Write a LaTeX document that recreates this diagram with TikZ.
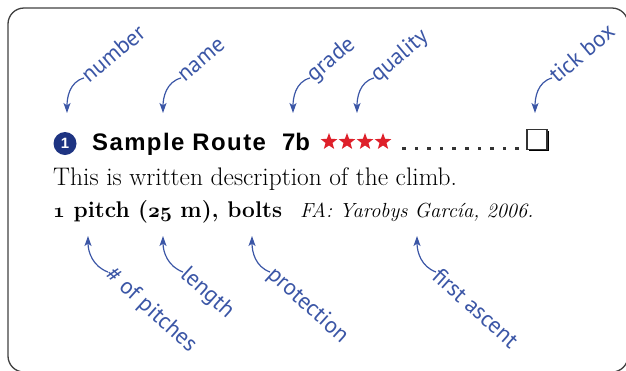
\documentclass[tikz,border=0pt]{standalone}
\usepackage{fontspec}
\newfontfamily\routefont{Liberation Sans}
\newfontfamily\notefont{PT Sans}
\usetikzlibrary{arrows.meta,shapes.geometric,shadows}

\definecolor{noteblue}{RGB}{59,86,166}
\definecolor{routenavy}{RGB}{30,52,130}
\definecolor{starred}{RGB}{222,32,42}

% old style figures taken from the math italic font
\newcommand\osfig[1]{{\fontencoding{OML}\fontfamily{cmm}\fontseries{b}\fontshape{it}\selectfont #1}}

\tikzset{
  note/.style={text=noteblue, inner sep=0pt,
    font=\notefont\fontsize{23}{23}\selectfont},
  notearrow/.style={draw=noteblue, line width=1.2bp,
    -{Stealth[length=10bp,width=7bp,inset=2.5bp]}},
  routetext/.style={inner sep=0pt, anchor=base west,
    font=\routefont\bfseries\fontsize{24}{24}\selectfont},
  desctext/.style={inner sep=0pt, anchor=base west,
    font=\fontsize{25.5}{25.5}\selectfont},
}

\begin{document}
\begin{tikzpicture}[x=1bp,y=-1bp]
  \useasboundingbox (0,0) rectangle (626,370);
  \draw[black!75, line width=1.3bp, rounded corners=16bp]
    (8,8) rectangle (628,372); % cadre

  % ligne du titre
  \node[circle, fill=routenavy, text=white, minimum size=23bp, inner sep=0pt,
    font=\routefont\bfseries\fontsize{15}{15}\selectfont] (num) at (65,143.5) {1};
  \node[routetext] (route) at (92,150)
    {\addfontfeature{LetterSpace=6}Sample Route};
  \node[routetext] (grade) at (282,150) {7b};
  \foreach \i in {1,...,4}
    \node[star, star points=5, star point ratio=2.4, fill=starred,
      minimum size=17.5bp, inner sep=0pt] (star\i) at (311+\i*18,141.8) {};
  \foreach \i in {0,...,9}
    \fill[black!80] (402+\i*12.6,146.6) rectangle +(3.6,3.6); % points
  \node[draw=black!80, fill=white, line width=1.3bp, minimum size=20bp,
    inner sep=0pt, drop shadow={shadow xshift=1.5bp, shadow yshift=-1.5bp,
    fill=black, opacity=1}] (tick) at (537,139.5) {};

  % description
  \node[desctext] (descr) at (53,185) {This is written description of the climb.};
  \node[desctext, font=\fontsize{22.8}{22.8}\selectfont\bfseries] (facts) at (53,217)
    {\osfig{1} pitch (\osfig{25} m), bolts};
  \node[desctext, font=\fontsize{20.5}{20.5}\selectfont\itshape] (fa) at (300,217)
    {FA: Yarobys García, 2006.};

  % legendes du haut
  \foreach \tx/\ty/\sx/\sy/\nm/\txt in {67/113/84/78/number/number,
      163/113/181/78/name/name, 293/113/310/78/grade/grade,
      357/113/374/78/quality/quality, 535/113/552/78/tick/tick box} {
    \coordinate (t\nm) at (\tx,\ty);
    \node[note, rotate=40, anchor=west] (l\nm) at (\sx,\sy) {\txt};
    \draw[notearrow] (l\nm.west) to[out=195,in=90] (t\nm);
  }
  % legendes du bas
  \foreach \tx/\ty/\sx/\sy/\nm/\txt in {88/236/108/272/pitches/\# of pitches,
      163/236/183/272/length/length, 252/236/270/272/prot/protection,
      417/236/436/272/fa/first ascent} {
    \coordinate (b\nm) at (\tx,\ty);
    \node[note, rotate=-42, anchor=west] (m\nm) at (\sx,\sy) {\txt};
    \draw[notearrow] (m\nm.west) to[out=160,in=-90] (b\nm);
  }
\end{tikzpicture}
\end{document}
